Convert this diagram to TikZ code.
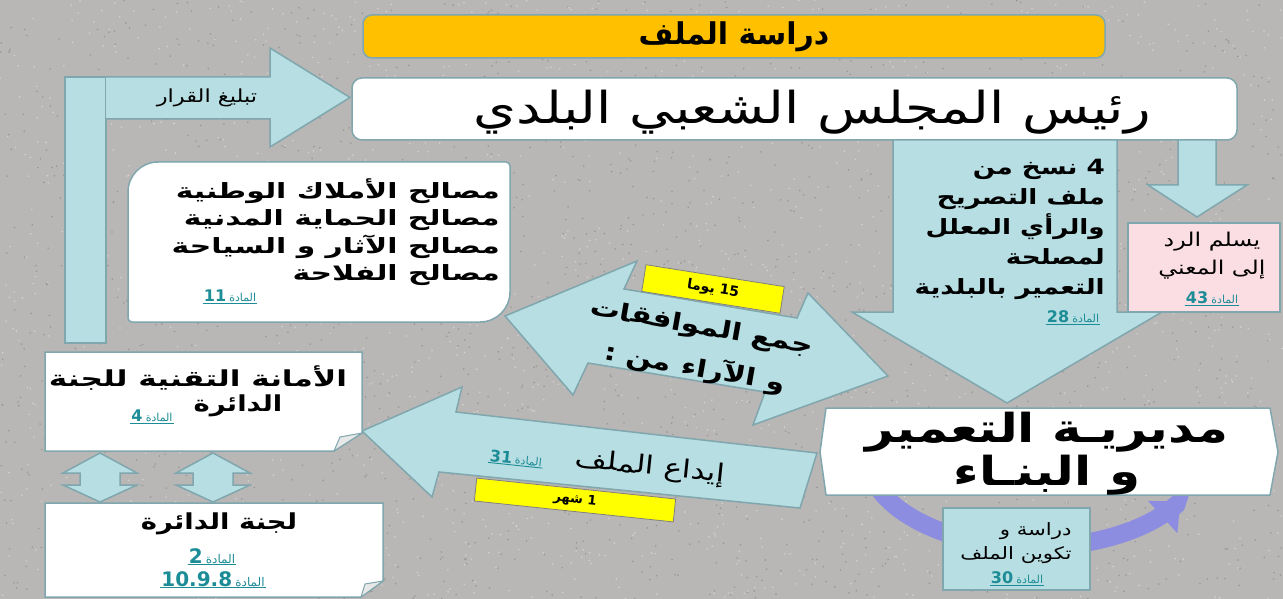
\documentclass[tikz,border=0pt]{standalone}
\usepackage{fontspec}
\usetikzlibrary{arrows.meta}
\TeXXeTstate=1
\newfontfamily\ar[Script=Arabic]{DejaVu Sans}
\newfontfamily\arw[Script=Arabic,FakeStretch=1.25]{DejaVu Sans}
\newfontfamily\arx[Script=Arabic,FakeStretch=1.42]{DejaVu Sans}
\newcommand{\fsz}[2]{\fontsize{#1}{#2}\selectfont}
\newcommand{\madatx}[1]{\beginR{\fsz{11}{12}المادة} {\fsz{16}{17}\bfseries\beginL #1\endL{}}\endR}
\newcommand{\madabig}[1]{\beginR{\fsz{12}{13}المادة} {\fsz{20}{21}\bfseries\beginL #1\endL{}}\endR}
\definecolor{bg}{RGB}{184,183,181}
\definecolor{bgdark}{RGB}{152,151,149}
\definecolor{bglight}{RGB}{210,209,207}
\definecolor{lblue}{RGB}{183,222,226}
\definecolor{edgec}{RGB}{128,166,174}
\definecolor{gold}{RGB}{255,192,0}
\definecolor{pinkc}{RGB}{250,222,228}
\definecolor{tealc}{RGB}{28,140,150}
\definecolor{purp}{RGB}{140,140,225}
\definecolor{yel}{RGB}{255,255,0}
\tikzset{
  blockarrow/.style={fill=lblue, draw=edgec, line width=1.5pt, line join=miter},
  whitebox/.style={fill=white, draw=edgec, line width=1.5pt},
  flap/.style={fill=white!82!gray, draw=edgec, line width=1pt},
  lbl/.style={text=black, inner sep=0pt},
  mada/.style={font=\ar, inner sep=1pt, text=tealc,
    append after command={(\tikzlastnode.south west) edge[draw=tealc, line width=0.9pt] (\tikzlastnode.south east)}},
  tag/.style={fill=yel, draw=gray, line width=0.8pt, inner sep=0pt},
}
\begin{document}
\begin{tikzpicture}[x=1pt,y=-1pt]
\useasboundingbox (0,0) rectangle (1283,599);
% background with granite-like texture
\fill[bg] (0,0) rectangle (1283,599);
\pgfmathsetseed{7}
\foreach \i in {1,...,1800}{
  \pgfmathsetmacro{\px}{rnd*1283}\pgfmathsetmacro{\py}{rnd*599}
  \fill[bgdark] (\px,\py) circle (0.9pt);
  \pgfmathsetmacro{\qx}{rnd*1283}\pgfmathsetmacro{\qy}{rnd*599}
  \fill[bglight] (\qx,\qy) circle (0.9pt);
}

% left vertical bar and arrow "notify"
\draw[blockarrow] (65,77) rectangle (106,343);
\draw[blockarrow] (106,77) -- (270,77) -- (270,48) -- (350,97.5) -- (270,147) -- (270,119) -- (106,119);
\node[lbl, font={\arw\fsz{18}{20}}] (notify) at (207,98) {\beginR تبليغ القرار\endR};

% big down arrow (behind chief box)
\draw[blockarrow] (893,130) -- (1117,130) -- (1117,312) -- (1162,312) -- (1007,403) -- (852,312) -- (893,312) -- cycle;
% small down arrow
\draw[blockarrow] (1178,130) -- (1216,130) -- (1216,185) -- (1247,185) -- (1197,217) -- (1148,185) -- (1178,185) -- cycle;

% title and chief
\node[fill=gold, draw=edgec, line width=1.5pt, rounded corners=9pt, minimum width=742pt, minimum height=43pt, font={\ar\bfseries\fsz{30}{36}}] (title) at (734,36.5) {\beginR دراسة الملف\endR};
\node[whitebox, rounded corners=10pt, minimum width=885pt, minimum height=62pt] (chief) at (794.5,109) {};
\node[lbl, font={\arw\fsz{44}{50}}] (chieftext) at (812,112) {\beginR رئيس المجلس الشعبي البلدي\endR};

% text in big arrow
\node[lbl, anchor=east, align=right, font={\arw\bfseries\fsz{21}{30}}] (copies) at (1105,229) {%
\beginR\beginL 4\endL{} نسخ من\endR\\
\beginR ملف التصريح\endR\\
\beginR والرأي المعلل\endR\\
\beginR لمصلحة\endR\\
\beginR التعمير بالبلدية\endR};
\node[mada] (c28) at (1073,317) {\madatx{28}};

% pink box
\node[fill=pinkc, draw=edgec, line width=1.5pt, minimum width=152pt, minimum height=89pt] (replybox) at (1204,267.5) {};
\node[lbl, align=center, font={\arw\fsz{19}{28}}] (reply) at (1212,256) {\beginR يسلم الرد\endR\\\beginR إلى المعني\endR};
\node[mada] (c43) at (1212,298) {\madatx{43}};

% services box (round diagonal corners)
\draw[whitebox] (128,192) .. controls (128,175.4) and (141.4,162) .. (158,162) -- (506,162) .. controls (508.2,162) and (510,163.8) .. (510,166) -- (510,292) .. controls (510,308.6) and (496.6,322) .. (480,322) -- (132,322) .. controls (129.8,322) and (128,320.2) .. (128,318) -- cycle;
\node[lbl, anchor=east, align=right, font={\arx\bfseries\fsz{21}{27.5}}] (services) at (500,232) {%
\beginR مصالح الأملاك الوطنية\endR\\
\beginR مصالح الحماية المدنية\endR\\
\beginR مصالح الآثار و السياحة\endR\\
\beginR مصالح الفلاحة\endR};
\node[mada] (c11) at (230,296) {\madatx{11}};

% double diagonal arrow "collect"
\draw[blockarrow] (505,316) -- (637,261) -- (624,289) -- (797,318) -- (808,293) -- (888,376) -- (753,425) -- (765,392) -- (588,363) -- (573,395) -- cycle;
\node[tag, rotate=-9, minimum width=140pt, minimum height=27pt, font={\ar\bfseries\fsz{14}{16}}] (d15) at (713,289) {\beginR\beginL 15\endL{} يوما\endR};
\node[lbl, rotate=-10, align=center, font={\arw\bfseries\fsz{24}{42}}] (collect) at (698,349) {\beginR جمع الموافقات\endR\\\beginR و الآراء من :\endR};

% left arrow "deposit"
\draw[blockarrow] (362,431) -- (462,387) -- (456,412) -- (817,453) -- (800,508) -- (439,472) -- (432,497) -- cycle;
\node[lbl, rotate=-6, font={\arw\fsz{25}{28}}] (deposit) at (650,468) {\beginR إيداع الملف\endR};
\node[mada, rotate=-6] (c31) at (516,458) {\madatx{31}};
\node[tag, rotate=-6, minimum width=200pt, minimum height=23pt, font={\ar\bfseries\fsz{13}{15}}] (m1) at (575,500) {\beginR\beginL 1\endL{} شهر\endR};

% purple curved arrow
\draw[purp, line width=18pt, -{Triangle[width=42pt,length=24pt]}] plot[smooth, domain=168:30, samples=40] ({1035+168*cos(\x)},{455+92*sin(\x)});

% direction box
\draw[whitebox] (826,408) -- (1270,408) -- (1278,452) -- (1270,495) -- (826,495) -- (820,452) -- cycle;
\node[lbl, align=center, font={\arw\bfseries\fsz{40}{43}}] (dir) at (1047,454) {\beginR مديريـة التعمير\endR\\\beginR و البنـاء\endR};

% small study box
\node[fill=lblue, draw=edgec, line width=1.5pt, minimum width=147pt, minimum height=82pt] (studybox) at (1016.5,549) {};
\node[lbl, align=right, font={\arw\fsz{17}{24}}] (study) at (1016,543) {\beginR دراسة و\endR\\\beginR تكوين الملف\endR};
\node[mada] (c30) at (1017,578) {\madatx{30}};

% amana box with folded corner
\draw[whitebox] (45,352) -- (362,352) -- (362,433) -- (334,451) -- (45,451) -- cycle;
\draw[flap] (362,433) -- (340,437) -- (334,451) -- cycle;
\node[lbl, font={\arx\bfseries\fsz{22}{26}}] (amana1) at (198,378) {\beginR الأمانة التقنية للجنة\endR};
\node[lbl, font={\arw\bfseries\fsz{22}{26}}] (amana2) at (238,406) {\beginR الدائرة\endR};
\node[mada] (c4) at (152,416) {\madatx{4}};

% double vertical arrows
\foreach \cx in {100,213}{
  \draw[blockarrow] (\cx,453) -- (\cx+37,473) -- (\cx+20,473) -- (\cx+20,485) -- (\cx+37,485) -- (\cx,502) -- (\cx-37,485) -- (\cx-20,485) -- (\cx-20,473) -- (\cx-37,473) -- cycle;
}

% committee box with folded corner
\draw[whitebox] (45,503) -- (383,503) -- (383,581) -- (361,597) -- (45,597) -- cycle;
\draw[flap] (383,581) -- (365,584) -- (361,597) -- cycle;
\node[lbl, font={\arw\bfseries\fsz{22}{26}}] (committee) at (219,524) {\beginR لجنة الدائرة\endR};
\node[mada] (c2) at (212,556) {\madabig{2}};
\node[mada] (c3) at (213,579) {\madabig{10.9.8}};
\end{tikzpicture}
\end{document}
